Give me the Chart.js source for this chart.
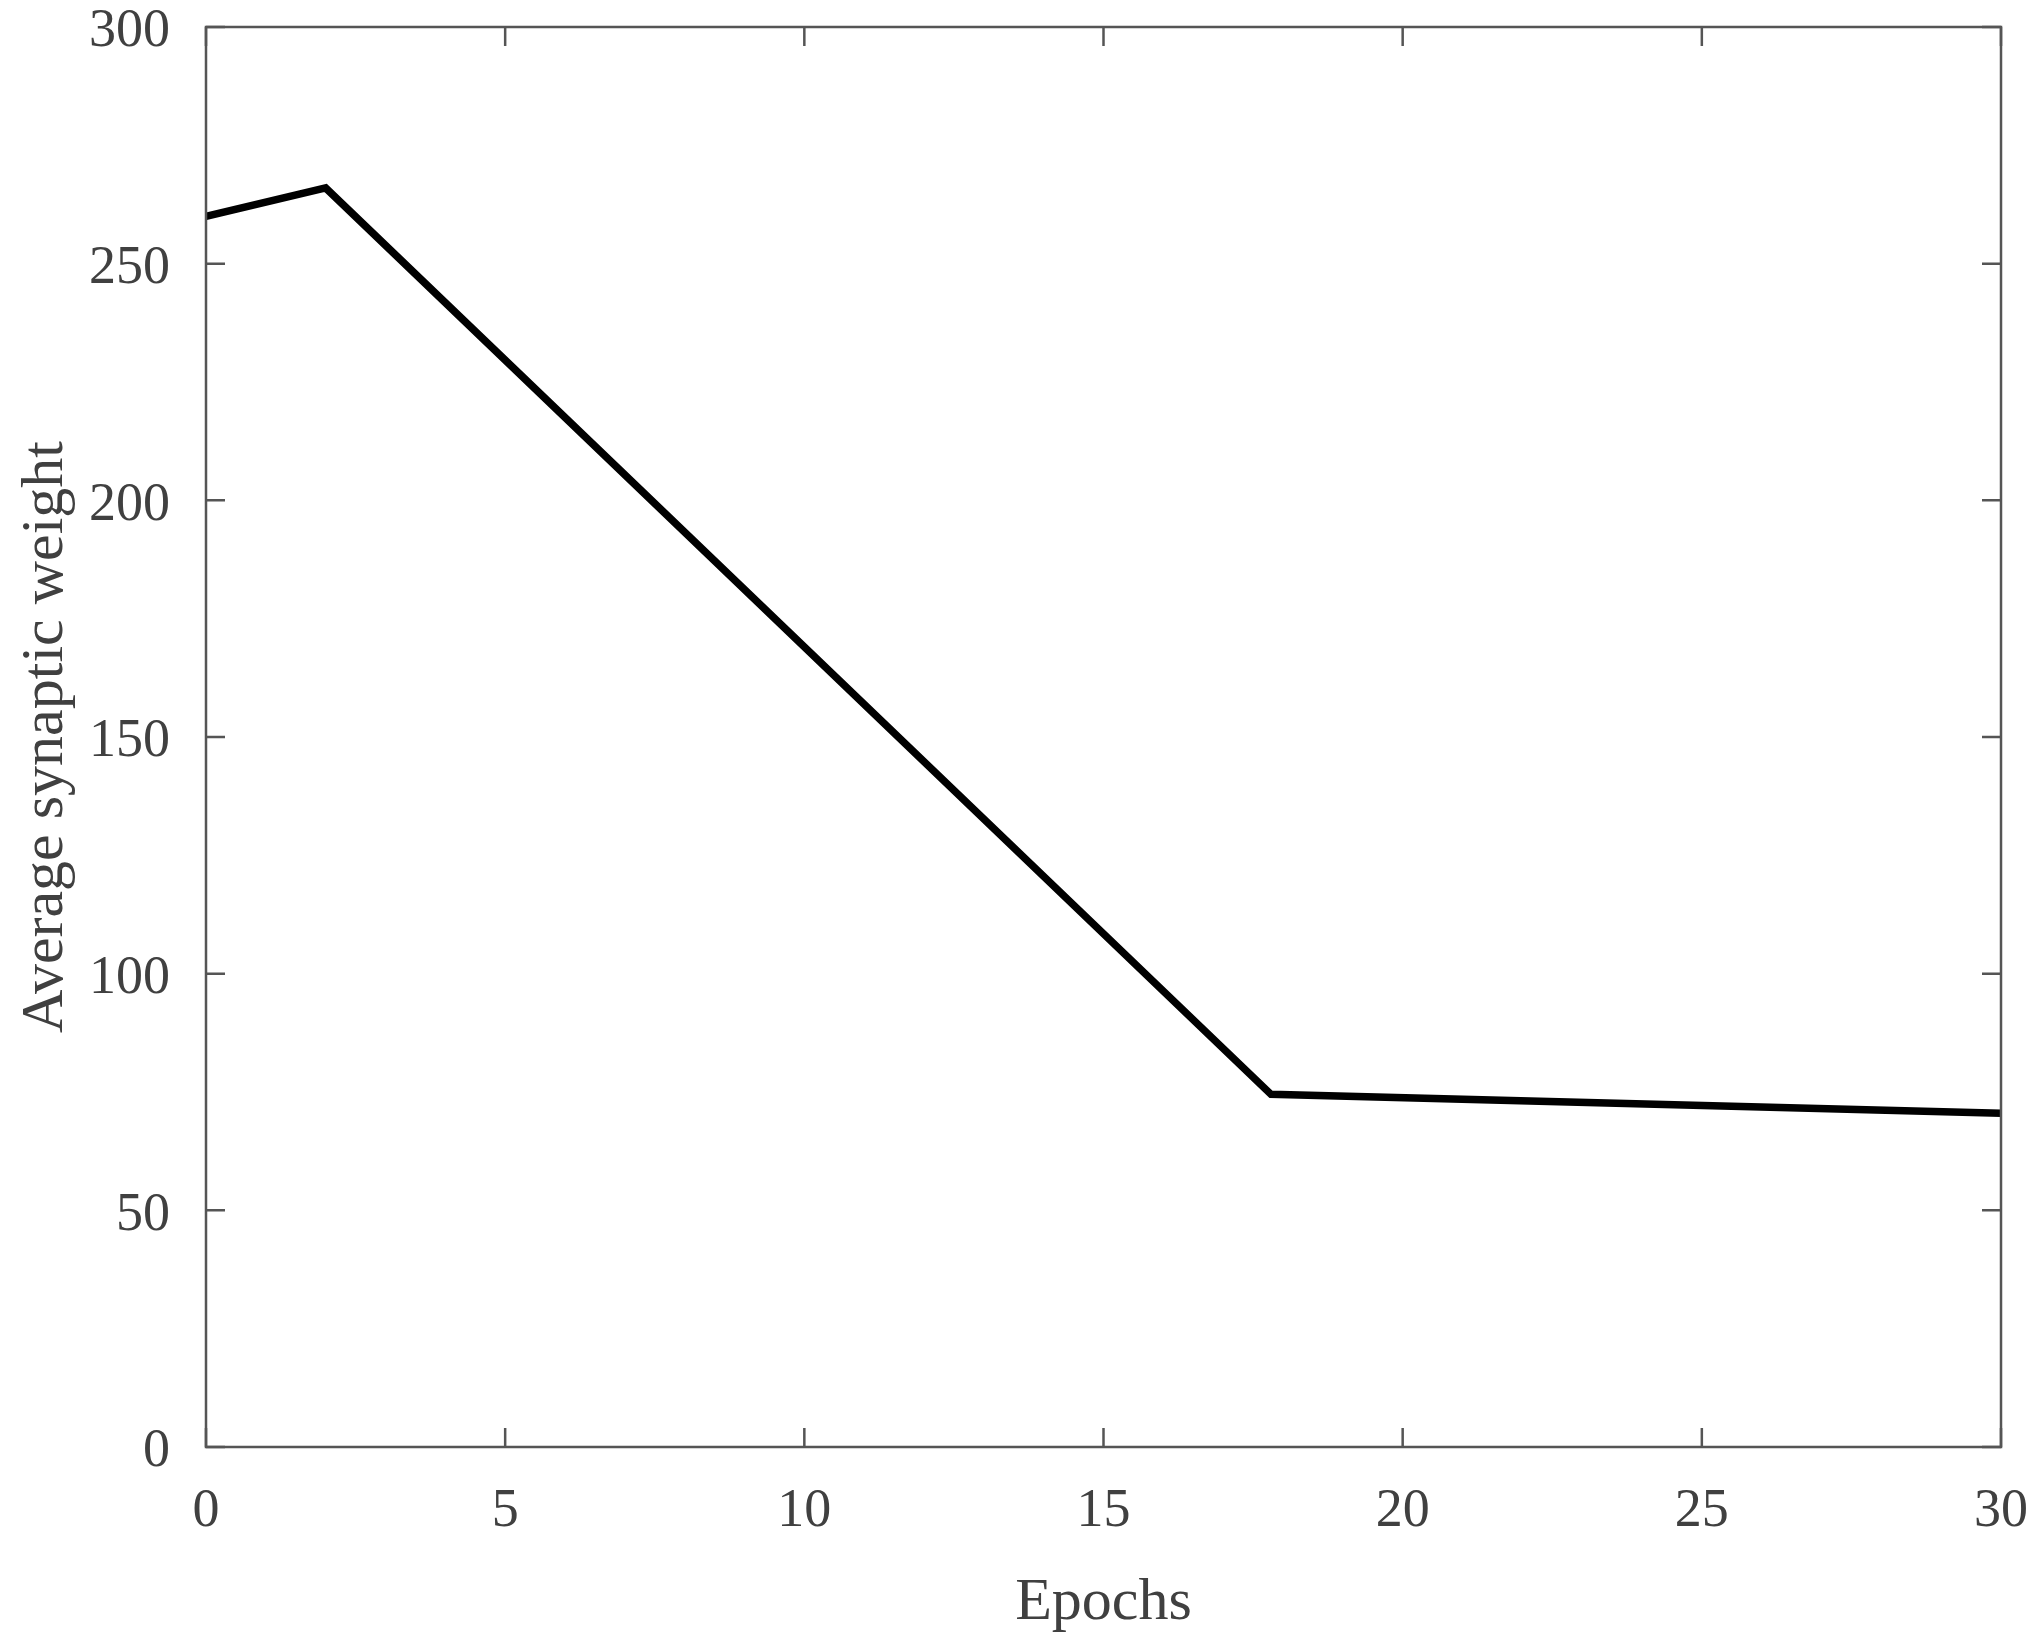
<!DOCTYPE html>
<html>
<head>
<meta charset="utf-8">
<script src="https://cdn.jsdelivr.net/npm/chart.js@4/dist/chart.umd.min.js"></script>
<style>
html,body{margin:0;padding:0;background:#fff;}
#wrap{width:2034px;height:1639px;position:relative;}
</style>
</head>
<body>
<div id="wrap"><canvas id="c" width="2034" height="1639"></canvas></div>
<script>
const epochs = [0, 2, 17.8, 30];
const weights = [260, 266, 74.5, 70.5];
const xTicks = [0, 5, 10, 15, 20, 25, 30];
const yTicks = [0, 50, 100, 150, 200, 250, 300];
const xTitle = 'Epochs';
const yTitle = 'Average synaptic weight';

const axisColor = '#555555';
const textColor = '#404040';
const fontFam = '"Liberation Serif", "Times New Roman", serif';

const boxTicks = {
  id: 'boxTicks',
  afterDatasetsDraw(chart) {
    const {ctx, chartArea: a, scales: {x, y}} = chart;
    const L = 19;
    ctx.save();
    ctx.strokeStyle = axisColor;
    ctx.lineWidth = 2.5;
    ctx.beginPath();
    ctx.rect(a.left, a.top, a.right - a.left, a.bottom - a.top);
    ctx.stroke();
    ctx.beginPath();
    xTicks.forEach(v => {
      const px = x.getPixelForValue(v);
      ctx.moveTo(px, a.bottom); ctx.lineTo(px, a.bottom - L);
      ctx.moveTo(px, a.top); ctx.lineTo(px, a.top + L);
    });
    yTicks.forEach(v => {
      const py = y.getPixelForValue(v);
      ctx.moveTo(a.left, py); ctx.lineTo(a.left + L, py);
      ctx.moveTo(a.right, py); ctx.lineTo(a.right - L, py);
    });
    ctx.stroke();
    ctx.restore();
  }
};

new Chart(document.getElementById('c'), {
  type: 'line',
  data: {
    datasets: [{
      data: epochs.map((e, i) => ({x: e, y: weights[i]})),
      borderColor: '#000000',
      borderWidth: 7.5,
      pointRadius: 0,
      tension: 0,
      fill: false
    }]
  },
  options: {
    responsive: false,
    animation: false,
    devicePixelRatio: 1,
    layout: {padding: {top: 27, right: 33, left: 0, bottom: 0}},
    plugins: {legend: {display: false}, tooltip: {enabled: false}},
    scales: {
      x: {
        type: 'linear',
        min: 0, max: 30,
        afterBuildTicks: s => { s.ticks = xTicks.map(v => ({value: v})); },
        afterFit: s => { s.height = 192; s.paddingLeft = 0; s.paddingRight = 0; },
        grid: {display: false, drawTicks: false},
        border: {display: false},
        ticks: {
          color: textColor,
          font: {family: fontFam, size: 54},
          padding: 32,
          maxRotation: 0,
          autoSkip: false
        },
        title: {
          display: true,
          text: xTitle,
          color: textColor,
          font: {family: fontFam, size: 60},
          padding: {top: 6, bottom: 0}
        }
      },
      y: {
        type: 'linear',
        min: 0, max: 300,
        afterBuildTicks: s => { s.ticks = yTicks.map(v => ({value: v})); },
        afterFit: s => { s.width = 206; s.paddingTop = 0; s.paddingBottom = 0; },
        grid: {display: false, drawTicks: false},
        border: {display: false},
        ticks: {
          color: textColor,
          font: {family: fontFam, size: 54},
          padding: 36,
          labelOffset: 5,
          autoSkip: false
        },
        title: {
          display: true,
          text: yTitle,
          color: textColor,
          font: {family: fontFam, size: 60},
          padding: {top: 10, bottom: 0}
        }
      }
    }
  },
  plugins: [boxTicks]
});
</script>
</body>
</html>
